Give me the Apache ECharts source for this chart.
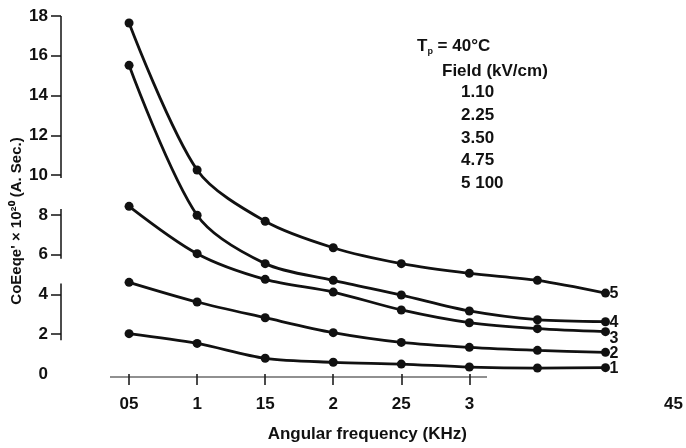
<!DOCTYPE html>
<html>
<head>
<meta charset="utf-8">
<script src="https://cdn.jsdelivr.net/npm/echarts@6/dist/echarts.min.js"></script>
<style>
html,body{margin:0;padding:0;background:#fff;}
#chart{width:686px;height:448px;}
</style>
</head>
<body>
<div id="chart"></div>
<script>
// ---- data ----
const xValues = [0.5, 1, 1.5, 2, 2.5, 3, 3.5, 4];
const curve1 = [2.03, 1.54, 0.79, 0.59, 0.50, 0.35, 0.30, 0.32];
const curve2 = [4.61, 3.62, 2.83, 2.08, 1.59, 1.34, 1.19, 1.09];
const curve3 = [8.43, 6.05, 4.76, 4.12, 3.22, 2.58, 2.28, 2.13];
const curve4 = [15.52, 7.98, 5.55, 4.71, 3.97, 3.17, 2.73, 2.63];
const curve5 = [17.65, 10.26, 7.68, 6.35, 5.55, 5.06, 4.71, 4.07];
const curveNames = ['1', '2', '3', '4', '5'];

const xTickValues = [0.5, 1, 1.5, 2, 2.5, 3];
const xLabelValues = [0.5, 1, 1.5, 2, 2.5, 3, 4.5];
const xLabelTexts = ['05', '1', '15', '2', '25', '3', '45'];
const yTickValues = [2, 4, 6, 8, 10, 12, 14, 16, 18];
const yLabelValues = [0, 2, 4, 6, 8, 10, 12, 14, 16, 18];

// drawn (broken) axis line pieces, in data units
const yAxisSegments = [[9.85, 18], [5.8, 8.3], [1.7, 4.55]];
const xAxisLineRange = [0.36, 3.13];

const legendTitle = 'Field (kV/cm)';
const legendValues = ['1.10', '2.25', '3.50', '4.75', '5 100'];

const xName = 'Angular frequency (KHz)';
const yName = "CoEeqe' × 10²⁰ (A. Sec.)";

// ---- chart ----
const FONT = '"Liberation Sans", Arial, Helvetica, sans-serif';
const INK = '#111';
const chart = echarts.init(document.getElementById('chart'), null, {renderer: 'canvas'});

const curves = [curve1, curve2, curve3, curve4, curve5];
const dataSeries = curves.map((c, i) => ({
  type: 'line',
  name: curveNames[i],
  data: xValues.map((x, j) => [x, c[j]]),
  smooth: 0.3,
  symbol: 'circle',
  symbolSize: 9,
  itemStyle: {color: INK},
  lineStyle: {color: INK, width: 2.8},
  clip: false,
  z: 5,
  endLabel: {
    show: true,
    formatter: curveNames[i],
    distance: 4,
    offset: i === 2 ? [0, 7] : [0, 1],
    fontFamily: FONT, fontWeight: 'bold', fontSize: 16, color: INK
  }
}));

const axisSeries = yAxisSegments.map(seg => ({
  type: 'line', silent: true, symbol: 'none', clip: false, z: 2,
  data: [[0, seg[0]], [0, seg[1]]],
  lineStyle: {color: INK, width: 1.5}
}));
axisSeries.push({
  type: 'line', silent: true, symbol: 'none', clip: false, z: 2,
  data: [[xAxisLineRange[0], -0.15], [xAxisLineRange[1], -0.15]],
  lineStyle: {color: '#222', width: 1.2}
});

const legendGraphics = [
  {
    type: 'text', left: 417, top: 38,
    style: {
      text: '{a|T}{s|p}{a| = 40°C}',
      rich: {
        a: {fontFamily: FONT, fontWeight: 'bold', fontSize: 17, fill: INK},
        s: {fontFamily: FONT, fontWeight: 'bold', fontSize: 9, fill: INK, padding: [10, 0, 0, 0]}
      }
    }
  },
  {
    type: 'text', left: 442, top: 63,
    style: {text: legendTitle, fontFamily: FONT, fontWeight: 'bold', fontSize: 17, fill: INK}
  }
].concat(legendValues.map((t, i) => ({
  type: 'text', left: 461, top: 84 + i * 22.7,
  style: {text: t, fontFamily: FONT, fontWeight: 'bold', fontSize: 17, fill: INK}
})));

legendGraphics.push({
  type: 'text', x: 17, y: 221, rotation: Math.PI / 2,
  style: {
    text: yName, fontFamily: FONT, fontWeight: 'bold', fontSize: 15, fill: INK,
    align: 'center', verticalAlign: 'middle'
  }
});

function xLabel(v) {
  for (let i = 0; i < xLabelValues.length; i++) {
    if (Math.abs(xLabelValues[i] - v) < 1e-6) return xLabelTexts[i];
  }
  return '';
}

const option = {
  backgroundColor: '#fff',
  animation: false,
  grid: {left: 61, right: 10, top: 16, bottom: 66},
  xAxis: {
    type: 'value', min: 0, max: 4.5,
    splitLine: {show: false},
    axisLine: {show: false},
    axisTick: {show: true, customValues: xTickValues, length: 11, lineStyle: {color: INK, width: 1.5}},
    axisLabel: {
      show: true, customValues: xLabelValues, formatter: xLabel, margin: 19,
      fontFamily: FONT, fontWeight: 'bold', fontSize: 17, color: INK
    },
    name: xName, nameLocation: 'middle', nameGap: 49,
    nameTextStyle: {fontFamily: FONT, fontWeight: 'bold', fontSize: 17, color: INK}
  },
  yAxis: {
    type: 'value', min: -0.15, max: 18,
    splitLine: {show: false},
    axisLine: {show: false},
    axisTick: {show: true, customValues: yTickValues, length: 10, lineStyle: {color: INK, width: 1.5}},
    axisLabel: {
      show: true, customValues: yLabelValues, margin: 13,
      fontFamily: FONT, fontWeight: 'bold', fontSize: 17, color: INK
    }
  },
  graphic: legendGraphics,
  series: axisSeries.concat(dataSeries)
};
chart.setOption(option);
</script>
</body>
</html>
